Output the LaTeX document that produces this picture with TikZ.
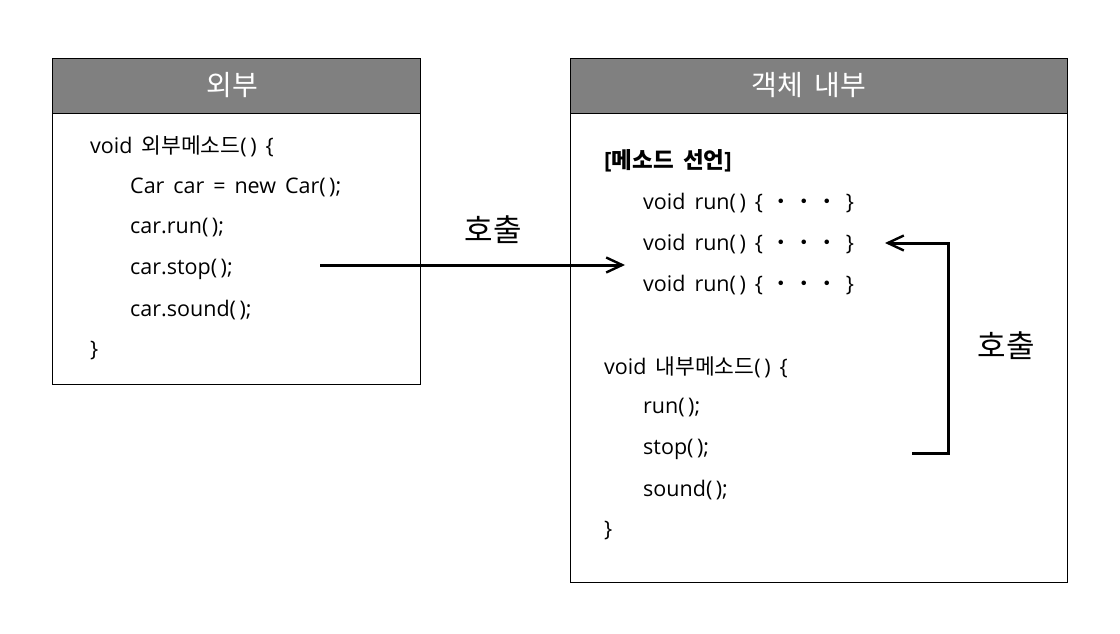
\documentclass[tikz,border=0pt]{standalone}
\usepackage{fontspec}
\setmainfont[WordSpace=1.6]{Open Sans}
\newfontfamily\kr[WordSpace=1.8]{Noto Sans CJK KR}
\usetikzlibrary{arrows.meta}
\definecolor{headgray}{RGB}{128,128,128}
\newcommand{\pr}{(\hspace{3.5pt})}
\newcommand{\dotrow}{\{\hspace{7pt}\makebox[23pt]{\kr ・}\makebox[23pt]{\kr ・}\makebox[23pt]{\kr ・}\hspace{7pt}\}}
\tikzset{
  box/.style={draw=black, line width=0.9pt, fill=white},
  head/.style={draw=black, line width=0.9pt, fill=headgray},
  headtxt/.style={text=white, font=\kr\fontsize{28}{30}\selectfont, inner sep=0pt},
  code/.style={anchor=west, inner sep=0pt, font=\fontsize{21.5}{24}\selectfont},
  lbl/.style={inner sep=0pt, font=\kr\fontsize{31}{34}\selectfont},
  callarrow/.style={line width=3pt, -{Straight Barb[length=16pt,width=15pt,line width=2.4pt]}}
}
\begin{document}
\begin{tikzpicture}[x=1pt,y=-1pt]
\useasboundingbox[fill=white] (0,0) rectangle (1120,634);
% left box
\draw[box] (52,58) rectangle (420,384);
\draw[head] (52,58) rectangle (420,113);
\node[headtxt] (lh) at (232,85) {외부};
\node[code] (l1) at (90,146) {void {\kr 외부메소드}\pr\ \{};
\node[code] (l2) at (130,187) {Car car = new Car\pr;};
\node[code] (l3) at (130,228) {car.run\pr;};
\node[code] (l4) at (130,269) {car.stop\pr;};
\node[code] (l5) at (130,310) {car.sound\pr;};
\node[code] (l6) at (90,351) {\}};
% right box
\draw[box] (570,58) rectangle (1067,582);
\draw[head] (570,58) rectangle (1067,113);
\node[headtxt] (rh) at (809,85) {객체 내부};
\node[code, font=\fontsize{22.5}{24}\selectfont\bfseries] (r0) at (604,161) {[{\kr\bfseries 메소드 선언}]};
\node[code] (r1) at (643,203) {void run\pr\ \dotrow};
\node[code] (r2) at (643,244) {void run\pr\ \dotrow};
\node[code] (r3) at (643,285) {void run\pr\ \dotrow};
\node[code] (r4) at (604,367) {void {\kr 내부메소드}\pr\ \{};
\node[code] (r5) at (643,408) {run\pr;};
\node[code] (r6) at (643,449) {stop\pr;};
\node[code] (r7) at (643,490) {sound\pr;};
\node[code] (r8) at (604,531) {\}};
% arrows
\coordinate (a1s) at (320,265);
\coordinate (a1e) at (625,265);
\draw[callarrow] (a1s) -- (a1e);
\node[lbl] (c1) at (493,230) {호출};
\coordinate (a2s) at (912,453);
\coordinate (a2k) at (948,453);
\coordinate (a2m) at (948,243);
\coordinate (a2e) at (885,243);
\draw[callarrow] (a2s) -- (a2k) -- (a2m) -- (a2e);
\node[lbl] (c2) at (1006,346) {호출};
\end{tikzpicture}
\end{document}
